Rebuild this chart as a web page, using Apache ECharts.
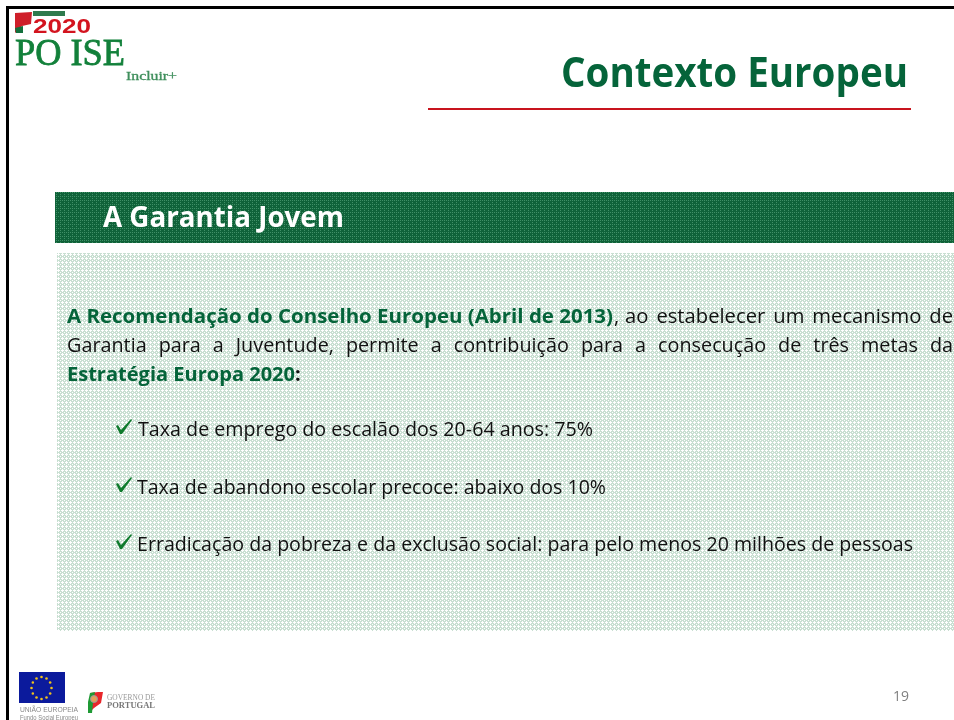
<!DOCTYPE html>
<html><head><meta charset="utf-8">
<style>html,body{margin:0;padding:0;background:#fff}#c{width:954px;height:720px}</style>
<script src="https://cdn.jsdelivr.net/npm/echarts@6/dist/echarts.min.js"></script>
</head><body><div id="c"></div>
<script>
const titleText = 'Contexto Europeu';
const bandText = 'A Garantia Jovem';
const introBold = 'A Recomendação do Conselho Europeu (Abril de 2013)';
const introRest = 'ao estabelecer um mecanismo de';
const introLine2 = 'Garantia para a Juventude, permite a contribuição para a consecução de três metas da';
const introLine3Bold = 'Estratégia Europa 2020';
const bullets = [
  'Taxa de emprego do escalão dos 20-64 anos: 75%',
  'Taxa de abandono escolar precoce: abaixo dos 10%',
  'Erradicação da pobreza e da exclusão social: para pelo menos 20 milhões de pessoas'
];
const pageNumber = '19';
const F = '"Open Sans", "Noto Sans", sans-serif';
const green = '#05643a';
const mctx = document.createElement('canvas').getContext('2d');
function w(text, font){ mctx.font = font; return mctx.measureText(text).width; }

function tile(size, base, dots, col){
  const c = document.createElement('canvas'); c.width = c.height = size;
  const x = c.getContext('2d'); x.fillStyle = base; x.fillRect(0,0,size,size);
  x.fillStyle = col; dots.forEach(d => x.fillRect(d[0],d[1],1,1));
  return c;
}
const plus = [[2,1],[1,2],[2,2],[3,2],[2,3],[0,0]];
const panelTile = tile(4, '#c9dfd2', plus, '#ffffff');
const bandTile = tile(4, '#0f6239', [[0,0],[2,0],[0,2]], '#3f8f66');

const g = [];
function rect(x,y,wd,h,fill,z){ g.push({type:'rect',shape:{x,y,width:wd,height:h},style:{fill},z:z||1,silent:true}); }
function txt(text,x,y,font,fill,targetW,extra){
  const s = targetW ? targetW / w(text,font) : 1;
  const st = Object.assign({text,font,fill,verticalAlign:'middle',align:'left'},extra||{});
  g.push({type:'text',x,y,scaleX:s,z:5,silent:true,style:st});
}
function check(x,y){
  g.push({type:'polygon',z:5,silent:true,shape:{points:[[x-1,y+8],[x+1,y+7],[x+4,y+12],[x+14,y+1],[x+15,y+2],[x+5,y+16],[x+3,y+16]]},style:{fill:'#0e7a2c'}});
}
function justified(text,x0,x1,y,font,fill,gap){
  const words = text.split(' ');
  const raw = words.map(t => w(t,font));
  const ratio = (x1-x0-gap*(words.length-1))/raw.reduce((a,b)=>a+b,0);
  let x = x0;
  words.forEach((t,i)=>{ g.push({type:'text',x,y,scaleX:ratio,z:5,silent:true,style:{text:t,font,fill,verticalAlign:'middle'}}); x += raw[i]*ratio+gap; });
}

// frame
rect(6,6,948,3,'#000');
rect(6,6,3,714,'#000');
// title
txt(titleText,561,75,'bold 42px '+F,green,347);
rect(428,108,483,2,'#c8141e');
// band + panel
rect(55,192,899,51,{image:bandTile,repeat:'repeat'});
rect(57,253,897,378,{image:panelTile,repeat:'repeat'});
txt(bandText,103,219,'bold 29px '+F,'#ffffff',241);
// intro
const bf='bold 20px '+F, rf='20px '+F;
txt(introBold,67,317,bf,green,546);
txt(',',614,317,rf,'#111');
justified(introRest,625,953,317,rf,'#111',8);
justified(introLine2,67,953,346,rf,'#111',12);
txt(introLine3Bold,67,375,bf,green,228);
txt(':',295,375,bf,'#111');
// bullets
const by=[430,488,545], bx=[138,137,137], bw=[455,469,776];
bullets.forEach((b,i)=>{ check(117,by[i]-12); txt(b,bx[i],by[i],'20px '+F,'#111',bw[i]); });
// page number
txt(pageNumber,893,697,'14px '+F,'#808080',16);

// logos
g.push({type:'polygon',z:5,silent:true,shape:{points:[[15,13],[32,12],[31,24],[22,26],[15,33]]},style:{fill:'#cf1f2a'}});
g.push({type:'polygon',z:5,silent:true,shape:{points:[[15,28],[23,26],[23,33],[16,33]]},style:{fill:'#13703d'}});
rect(33,11,32,5,'#2f7a4d',5);
txt('2020',33,27,'bold 21px "Liberation Sans"','#d3141f',58);
txt('PO ISE',15,55,'38px "Liberation Serif"','#12803a',110,{stroke:'#12803a',lineWidth:0.8});
txt('Incluir+',126,77,'12px "Liberation Serif"','#3f8f5c',51,{stroke:'#3f8f5c',lineWidth:0.3});
rect(19,672,46,31,'#0b1a9c',5);
for(let i=0;i<12;i++){
  const a=i*Math.PI/6;
  g.push({type:'circle',z:6,silent:true,shape:{cx:41.5+10*Math.sin(a),cy:688-11*Math.cos(a),r:1.3},style:{fill:'#f2c21a'}});
}
txt('UNIÃO EUROPEIA',20,710,'8px "Liberation Sans"','#8a8a8a',58);
txt('Fundo Social Europeu',20,718,'7px "Liberation Sans"','#8a8a8a',58);
g.push({type:'polygon',z:5,silent:true,shape:{points:[[90,693],[98,692],[103,692],[101,703],[94,708],[90,712]]},style:{fill:'#e8262a'}});
g.push({type:'polygon',z:6,silent:true,shape:{points:[[90,693],[95,692],[93,703],[92,713],[88,713],[88,702]]},style:{fill:'#1f9a35'}});
g.push({type:'circle',z:7,silent:true,shape:{cx:94,cy:699,r:3.5},style:{fill:'#e6a05a',stroke:'#999',lineWidth:1}});
txt('GOVERNO DE',107,698,'8px "Liberation Serif"','#999',48);
txt('PORTUGAL',107,706,'bold 9px "Liberation Serif"','#777',48);

const chart = echarts.init(document.getElementById('c'),null,{renderer:'canvas'});
chart.setOption({animation:false,backgroundColor:'#fff',graphic:{elements:g}});
</script></body></html>
